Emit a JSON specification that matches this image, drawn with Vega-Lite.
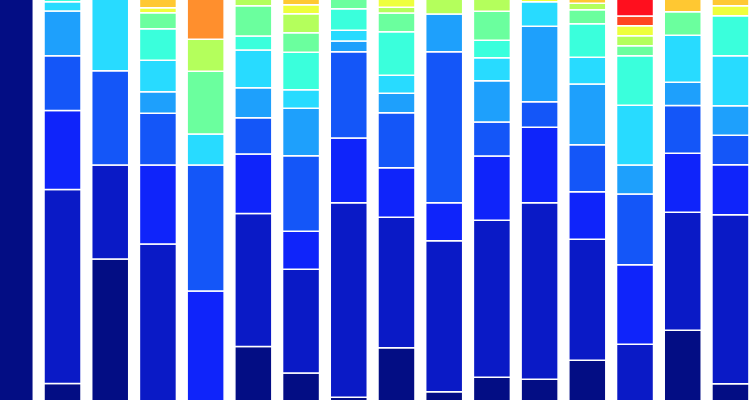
{
  "$schema": "https://vega.github.io/schema/vega-lite/v6.json",
  "width": 750,
  "height": 400,
  "autosize": {"type": "none"},
  "padding": 0,
  "background": "white",
  "config": {"view": {"stroke": null}},
  "data": {"values": [
    {"b":1,"s":0,"v":440},

    {"b":2,"s":0,"v":36.5},{"b":2,"s":1,"v":194},{"b":2,"s":2,"v":79},{"b":2,"s":3,"v":54.7},{"b":2,"s":4,"v":44.8},{"b":2,"s":5,"v":9.2},{"b":2,"s":6,"v":21.8},

    {"b":3,"s":0,"v":161},{"b":3,"s":1,"v":94},{"b":3,"s":3,"v":94.2},{"b":3,"s":5,"v":90.8},

    {"b":4,"s":1,"v":176},{"b":4,"s":2,"v":79},{"b":4,"s":3,"v":51.8},{"b":4,"s":4,"v":21.4},{"b":4,"s":5,"v":31.6},{"b":4,"s":6,"v":31.5},{"b":4,"s":7,"v":16},{"b":4,"s":9,"v":4.9},{"b":4,"s":10,"v":27.8},

    {"b":5,"s":2,"v":129},{"b":5,"s":3,"v":126},{"b":5,"s":5,"v":31},{"b":5,"s":7,"v":62.7},{"b":5,"s":8,"v":32.1},{"b":5,"s":11,"v":59.2},

    {"b":6,"s":0,"v":73.5},{"b":6,"s":1,"v":133},{"b":6,"s":2,"v":59.5},{"b":6,"s":3,"v":36.2},{"b":6,"s":4,"v":30.1},{"b":6,"s":5,"v":37.7},{"b":6,"s":6,"v":14},{"b":6,"s":7,"v":30.2},{"b":6,"s":8,"v":25.8},

    {"b":7,"s":0,"v":47.1},{"b":7,"s":1,"v":103.6},{"b":7,"s":2,"v":38},{"b":7,"s":3,"v":75.5},{"b":7,"s":4,"v":47.6},{"b":7,"s":5,"v":18.4},{"b":7,"s":6,"v":37.6},{"b":7,"s":7,"v":19.4},{"b":7,"s":8,"v":19},{"b":7,"s":9,"v":9},{"b":7,"s":10,"v":24.8},

    {"b":8,"s":0,"v":22.7},{"b":8,"s":1,"v":194.5},{"b":8,"s":2,"v":64.8},{"b":8,"s":3,"v":86.2},{"b":8,"s":4,"v":10.8},{"b":8,"s":5,"v":10.7},{"b":8,"s":6,"v":21.5},{"b":8,"s":7,"v":28.8},

    {"b":9,"s":0,"v":72.2},{"b":9,"s":1,"v":130.5},{"b":9,"s":2,"v":49.5},{"b":9,"s":3,"v":55},{"b":9,"s":4,"v":19.5},{"b":9,"s":5,"v":18},{"b":9,"s":6,"v":43.5},{"b":9,"s":7,"v":18.8},{"b":9,"s":8,"v":5.7},{"b":9,"s":9,"v":27.3},

    {"b":10,"s":0,"v":28.2},{"b":10,"s":1,"v":151},{"b":10,"s":2,"v":38},{"b":10,"s":3,"v":151},{"b":10,"s":4,"v":37.8},{"b":10,"s":8,"v":34},

    {"b":11,"s":0,"v":42.8},{"b":11,"s":1,"v":157},{"b":11,"s":2,"v":64.2},{"b":11,"s":3,"v":34},{"b":11,"s":4,"v":41.2},{"b":11,"s":5,"v":23},{"b":11,"s":6,"v":17.6},{"b":11,"s":7,"v":29},{"b":11,"s":8,"v":31.2},

    {"b":12,"s":0,"v":40.8},{"b":12,"s":1,"v":176.4},{"b":12,"s":2,"v":75.6},{"b":12,"s":3,"v":25.4},{"b":12,"s":4,"v":75.6},{"b":12,"s":5,"v":24.4},{"b":12,"s":9,"v":21.8},

    {"b":13,"s":0,"v":59.8},{"b":13,"s":1,"v":121},{"b":13,"s":2,"v":47.4},{"b":13,"s":3,"v":47},{"b":13,"s":4,"v":60.8},{"b":13,"s":5,"v":26.8},{"b":13,"s":6,"v":33.4},{"b":13,"s":7,"v":14},{"b":13,"s":8,"v":6.6},{"b":13,"s":10,"v":23.2},

    {"b":14,"s":1,"v":75.8},{"b":14,"s":2,"v":79.4},{"b":14,"s":3,"v":70.8},{"b":14,"s":4,"v":29},{"b":14,"s":5,"v":59.8},{"b":14,"s":6,"v":49.4},{"b":14,"s":7,"v":10},{"b":14,"s":8,"v":10},{"b":14,"s":9,"v":10},{"b":14,"s":12,"v":9.8},{"b":14,"s":13,"v":36},

    {"b":15,"s":0,"v":89.8},{"b":15,"s":1,"v":117.9},{"b":15,"s":2,"v":59.1},{"b":15,"s":3,"v":47.7},{"b":15,"s":4,"v":23.3},{"b":15,"s":5,"v":47},{"b":15,"s":7,"v":23.4},{"b":15,"s":10,"v":31.8},

    {"b":16,"s":0,"v":36.2},{"b":16,"s":1,"v":169},{"b":16,"s":2,"v":50},{"b":16,"s":3,"v":29.6},{"b":16,"s":4,"v":29.4},{"b":16,"s":5,"v":50},{"b":16,"s":6,"v":40},{"b":16,"s":9,"v":10},{"b":16,"s":10,"v":25.8}
  ]},
  "mark": {"type": "bar", "stroke": "white", "strokeWidth": 1.5, "clip": true},
  "encoding": {
    "x": {
      "field": "b", "type": "ordinal", "axis": null,
      "scale": {"range": [-9.05, 754.3], "paddingInner": 0.2245, "paddingOuter": 0.1122}
    },
    "y": {
      "field": "v", "type": "quantitative", "stack": "zero", "axis": null,
      "scale": {"domain": [20, 420], "zero": false, "nice": false}
    },
    "color": {
      "field": "s", "type": "ordinal", "legend": null,
      "scale": {
        "domain": [0,1,2,3,4,5,6,7,8,9,10,11,12,13],
        "range": ["#030d84","#0a1ac6","#0f24fa","#1456f8","#1ea0fc","#28dbff","#3affdc","#6bff9e","#b4ff5c","#eeff3c","#ffc832","#ff8f2d","#ff4520","#ff0f1e"]
      }
    },
    "order": {"field": "s", "type": "quantitative", "sort": "ascending"}
  }
}
